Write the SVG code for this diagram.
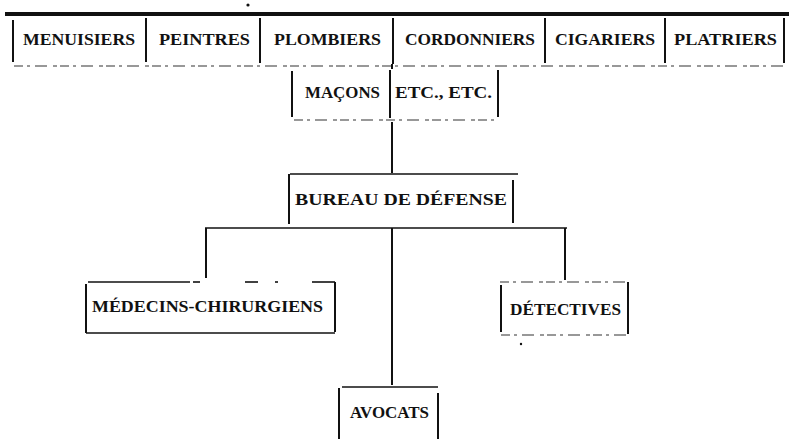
<svg xmlns="http://www.w3.org/2000/svg" width="789" height="439" viewBox="0 0 789 439">
<style>
  .t { font-family: "Liberation Serif", "DejaVu Serif", serif; font-weight: bold; font-size: 17px; fill: #111; }
  .v { stroke: #111; stroke-width: 2; fill: none; }
  .h { stroke: #111; stroke-width: 1.6; fill: none; }
  .d { stroke: #333; stroke-width: 1.2; fill: none; stroke-dasharray: 9 4 3 5 12 6 4 3; }
  .thick { stroke: #111; stroke-width: 4; fill: none; }
</style>
<rect width="789" height="439" fill="#fff"/>
<circle cx="248" cy="5" r="1.6" fill="#111"/>
<line class="thick" x1="5" y1="14" x2="789" y2="14"/>

<g id="top-row">
  <g id="menuisiers">
    <line class="v" x1="13" y1="20" x2="13" y2="62"/>
    <text class="t" x="23" y="45" textLength="112" lengthAdjust="spacingAndGlyphs">MENUISIERS</text>
  </g>
  <g id="peintres">
    <line class="v" x1="146" y1="18" x2="146" y2="62"/>
    <text class="t" x="159" y="45" textLength="91" lengthAdjust="spacingAndGlyphs">PEINTRES</text>
  </g>
  <g id="plombiers">
    <line class="v" x1="260" y1="18" x2="260" y2="63"/>
    <text class="t" x="274" y="45" textLength="107" lengthAdjust="spacingAndGlyphs">PLOMBIERS</text>
  </g>
  <g id="cordonniers">
    <line class="v" x1="393" y1="18" x2="393" y2="64"/>
    <text class="t" x="405" y="45" textLength="130" lengthAdjust="spacingAndGlyphs">CORDONNIERS</text>
  </g>
  <g id="cigariers">
    <line class="v" x1="545" y1="18" x2="545" y2="63"/>
    <text class="t" x="555" y="45" textLength="100" lengthAdjust="spacingAndGlyphs">CIGARIERS</text>
  </g>
  <g id="platriers">
    <line class="v" x1="665" y1="18" x2="665" y2="63"/>
    <line class="v" x1="784" y1="18" x2="784" y2="63"/>
    <text class="t" x="674" y="45" textLength="103" lengthAdjust="spacingAndGlyphs">PLATRIERS</text>
  </g>
  <line class="d" x1="14" y1="66" x2="784" y2="66"/>
</g>

<g id="macons-row">
  <g id="macons">
    <line class="v" x1="292" y1="71" x2="292" y2="117"/>
    <text class="t" x="305" y="98" textLength="75" lengthAdjust="spacingAndGlyphs">MAÇONS</text>
  </g>
  <g id="etc">
    <line class="v" x1="390" y1="70" x2="390" y2="118"/>
    <line class="v" x1="498" y1="70" x2="498" y2="117"/>
    <text class="t" x="395" y="98" textLength="97" lengthAdjust="spacingAndGlyphs">ETC., ETC.</text>
  </g>
  <line class="d" x1="294" y1="120" x2="498" y2="120"/>
</g>

<g id="bureau">
  <line class="h" x1="290" y1="174" x2="518" y2="174"/>
  <line class="v" x1="289" y1="174" x2="289" y2="224"/>
  <line class="v" x1="513" y1="180" x2="513" y2="223"/>
  <text class="t" x="295" y="205" textLength="212" lengthAdjust="spacingAndGlyphs">BUREAU DE DÉFENSE</text>
</g>

<g id="medecins">
  <line class="h" x1="88" y1="282" x2="190" y2="282"/>
  <line class="h" x1="193" y1="282" x2="200" y2="282"/>
  <line class="h" x1="245" y1="282" x2="258" y2="282"/>
  <line class="h" x1="275" y1="282" x2="278" y2="282"/>
  <line class="h" x1="312" y1="282" x2="335" y2="282"/>
  <line class="v" x1="86" y1="284" x2="86" y2="333"/>
  <line class="v" x1="335" y1="282" x2="335" y2="332"/>
  <line class="h" x1="86" y1="333" x2="335" y2="333"/>
  <text class="t" x="92" y="312" textLength="231" lengthAdjust="spacingAndGlyphs">MÉDECINS-CHIRURGIENS</text>
</g>

<g id="detectives">
  <line class="d" x1="500" y1="282" x2="629" y2="282"/>
  <line class="v" x1="501" y1="285" x2="501" y2="332"/>
  <line class="v" x1="628" y1="282" x2="628" y2="334"/>
  <line class="d" x1="501" y1="335" x2="629" y2="335"/>
  <circle cx="521" cy="344" r="1.2" fill="#111"/>
  <text class="t" x="510" y="315" textLength="111" lengthAdjust="spacingAndGlyphs">DÉTECTIVES</text>
</g>

<g id="avocats">
  <line class="h" x1="342" y1="387" x2="438" y2="387"/>
  <line class="v" x1="339" y1="388" x2="339" y2="439"/>
  <line class="v" x1="438" y1="393" x2="438" y2="439"/>
  <text class="t" x="350" y="418" textLength="79" lengthAdjust="spacingAndGlyphs">AVOCATS</text>
</g>

<g id="connectors">
  <line class="v" x1="392" y1="64" x2="392" y2="69"/>
  <line class="v" x1="392" y1="122" x2="392" y2="173"/>
  <line class="h" x1="205" y1="228" x2="567" y2="228"/>
  <line class="v" x1="206" y1="228" x2="206" y2="278"/>
  <line class="v" x1="392" y1="228" x2="392" y2="385"/>
  <line class="v" x1="565" y1="228" x2="565" y2="280"/>
</g>
</svg>
